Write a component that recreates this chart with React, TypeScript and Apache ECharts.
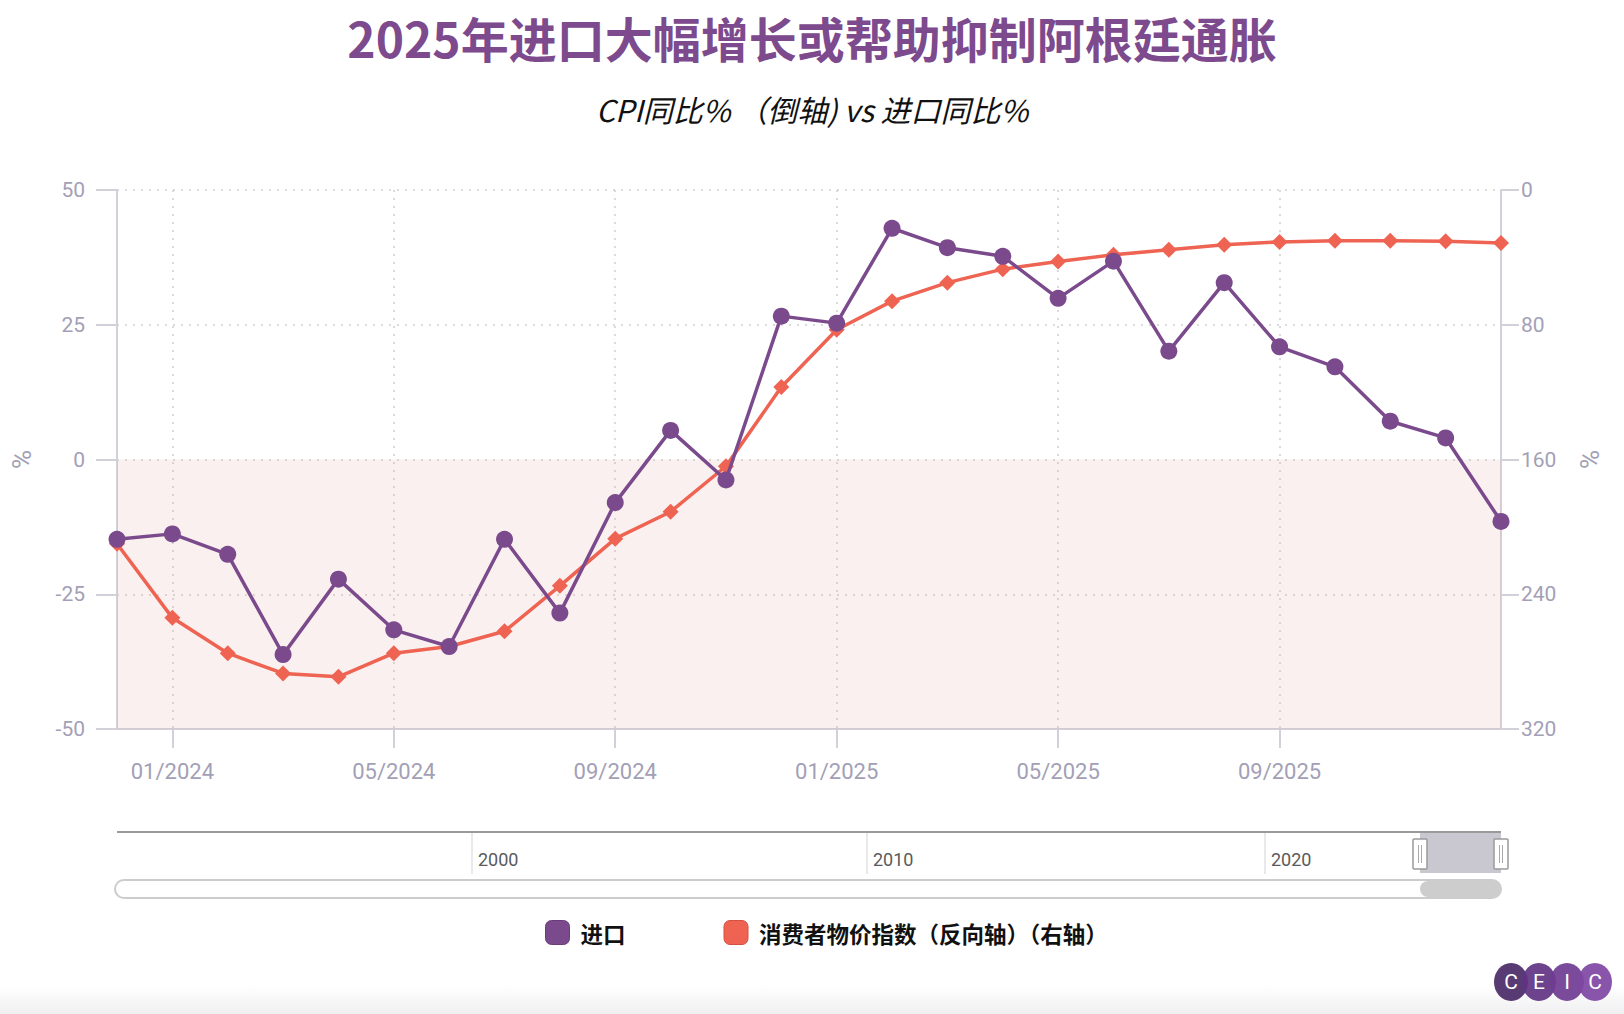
import React, { useEffect, useRef } from "react";
import * as echarts from "echarts";

// ---- data ----
const months = [
  "12/2023", "01/2024", "02/2024", "03/2024", "04/2024", "05/2024", "06/2024",
  "07/2024", "08/2024", "09/2024", "10/2024", "11/2024", "12/2024", "01/2025",
  "02/2025", "03/2025", "04/2025", "05/2025", "06/2025", "07/2025", "08/2025",
  "09/2025", "10/2025", "11/2025", "12/2025", "01/2026",
];
const importsYoY = [
  -14.8, -13.8, -17.6, -36.2, -22.2, -31.6, -34.7, -14.8, -28.5, -8.0, 5.4,
  -3.8, 26.6, 25.3, 42.9, 39.3, 37.7, 29.9, 36.8, 20.1, 32.8, 20.9, 17.2, 7.1,
  4.0, -11.5,
];
const cpiYoY = [
  210, 254, 275, 287, 289, 275, 271, 262, 235, 207, 191, 164, 117, 83, 66, 55,
  47, 42.5, 38.5, 35.5, 32.5, 30.8, 30.2, 30.2, 30.4, 31.4,
];
const seriesNames = ["进口", "消费者物价指数（反向轴）（右轴）"];
const sliderYears = ["2000", "2010", "2020"];
const logoLetters = ["C", "E", "I", "C"];

const titleText = "2025年进口大幅增长或帮助抑制阿根廷通胀";
const subtitleText = "CPI同比% （倒轴) vs 进口同比%";

const PURPLE = "#7b4a8c";
const RED = "#ee6352";
const AXIS_GRAY = "#d2d0d9";
const LABEL_GRAY = "#a39fb6";
const GRID_DOT = "#cfcfcf";

const lastIdx = months.length - 1;
const showEvery4 = (i: number) => i % 4 === 1 && i < lastIdx;

function buildGraphics() {
  const els: any[] = [];
  // slider decoration
  const sx0 = 117, sx1 = 1501, sy = 832;
  els.push({
    type: "line",
    shape: { x1: sx0, y1: sy, x2: sx1, y2: sy },
    style: { stroke: "#9a9a9a", lineWidth: 2 },
  });
  const sepX = [472, 867, 1265];
  sliderYears.forEach((y, i) => {
    els.push({
      type: "line",
      shape: { x1: sepX[i], y1: sy + 1, x2: sepX[i], y2: sy + 42 },
      style: { stroke: "#e2e2e2", lineWidth: 1.5 },
    });
    els.push({
      type: "text",
      x: sepX[i] + 6,
      y: sy + 27,
      style: {
        text: y,
        fontSize: 18,
        fontFamily: "Roboto",
        fill: "#5a5a5a",
        verticalAlign: "middle",
      },
    });
  });
  // selected window
  els.push({
    type: "rect",
    shape: { x: 1420, y: sy + 1, width: 81, height: 40 },
    style: { fill: "#c9c8d0" },
  });
  [1413, 1494].forEach((hx) => {
    els.push({
      type: "rect",
      shape: { x: hx, y: sy + 7, width: 14, height: 30, r: 1 },
      style: { fill: "#ffffff", stroke: "#9a9a9a", lineWidth: 1.5 },
    });
    els.push({
      type: "line",
      shape: { x1: hx + 5.5, y1: sy + 13, x2: hx + 5.5, y2: sy + 31 },
      style: { stroke: "#aaaaaa", lineWidth: 1 },
    });
    els.push({
      type: "line",
      shape: { x1: hx + 8.5, y1: sy + 13, x2: hx + 8.5, y2: sy + 31 },
      style: { stroke: "#aaaaaa", lineWidth: 1 },
    });
  });
  // scrollbar
  els.push({
    type: "rect",
    shape: { x: 115, y: 880, width: 1386, height: 18, r: 9 },
    style: { fill: "#ffffff", stroke: "#cccccc", lineWidth: 2 },
  });
  els.push({
    type: "rect",
    shape: { x: 1420, y: 881, width: 81, height: 16, r: 8 },
    style: { fill: "#cdcdcd" },
  });
  // bottom faint band
  els.push({
    type: "rect",
    z: -1,
    shape: { x: 0, y: 985, width: 1624, height: 29 },
    style: {
      fill: new echarts.graphic.LinearGradient(0, 0, 0, 1, [
        { offset: 0, color: "rgba(240,240,242,0)" },
        { offset: 1, color: "rgba(240,240,242,1)" },
      ]),
    },
  });
  // CEIC logo
  const logoColors = ["#4b2a68", "#5f3382", "#6f3c92", "#7f47a3"];
  const lx = [1511, 1539, 1567, 1595];
  logoLetters.forEach((ch, i) => {
    els.push({
      type: "ellipse",
      shape: { cx: lx[i], cy: 982, rx: 17, ry: 19 },
      style: { fill: logoColors[i], opacity: 0.92 },
    });
  });
  logoLetters.forEach((ch, i) => {
    els.push({
      type: "text",
      x: lx[i],
      y: 982,
      style: {
        text: ch,
        fill: "#ffffff",
        fontSize: 21,
        fontFamily: "Roboto",
        align: "center",
        verticalAlign: "middle",
      },
    });
  });
  return els;
}

function buildOption(): any {
  return {
    animation: false,
    backgroundColor: "#ffffff",
    title: [
      {
        text: titleText,
        left: "center",
        top: 8,
        textStyle: {
          color: "#7d4a8e",
          fontSize: 48,
          fontWeight: "bold",
          fontFamily: "Noto Sans CJK SC",
        },
      },
      {
        text: subtitleText,
        left: "center",
        top: 89,
        textStyle: {
          color: "#111111",
          fontSize: 30,
          fontStyle: "italic",
          fontWeight: "normal",
          fontFamily: "Noto Sans CJK SC",
        },
      },
    ],
    legend: {
      left: 540,
      top: 915,
      itemWidth: 24,
      itemHeight: 24,
      itemGap: 98,
      icon: "roundRect",
      textStyle: {
        fontSize: 22.5,
        fontWeight: "bold",
        color: "#111111",
        fontFamily: "Noto Sans CJK SC",
        padding: [0, 0, 0, 6],
      },
      data: [
        { name: seriesNames[0], itemStyle: { color: PURPLE, borderColor: "#6a3d7a", borderWidth: 1 } },
        { name: seriesNames[1], itemStyle: { color: RED, borderColor: "#d4513f", borderWidth: 1 } },
      ],
    },
    grid: { left: 117, right: 123, top: 190, bottom: 285 },
    xAxis: {
      type: "category",
      data: months,
      boundaryGap: false,
      axisLine: { show: true, onZero: false, lineStyle: { color: AXIS_GRAY, width: 2 } },
      axisTick: {
        show: true,
        interval: showEvery4,
        length: 19,
        lineStyle: { color: AXIS_GRAY, width: 2 },
      },
      axisLabel: {
        interval: showEvery4,
        margin: 31,
        color: LABEL_GRAY,
        fontSize: 22,
        fontFamily: "Roboto",
      },
      splitLine: {
        show: true,
        interval: showEvery4,
        lineStyle: { color: GRID_DOT, type: [2, 6], width: 1.5 },
      },
    },
    yAxis: [
      {
        type: "value",
        min: -50,
        max: 50,
        interval: 25,
        name: "%",
        nameLocation: "middle",
        nameRotate: 90,
        nameGap: 82,
        nameTextStyle: { color: LABEL_GRAY, fontSize: 26, fontFamily: "Roboto" },
        axisLine: { show: true, lineStyle: { color: AXIS_GRAY, width: 2 } },
        axisTick: { show: true, length: 21, lineStyle: { color: AXIS_GRAY, width: 2 } },
        axisLabel: { margin: 32, color: LABEL_GRAY, fontSize: 21, fontFamily: "Roboto" },
        splitLine: { show: true, lineStyle: { color: GRID_DOT, type: [2, 6], width: 1.5 } },
      },
      {
        type: "value",
        inverse: true,
        min: 0,
        max: 320,
        interval: 80,
        position: "right",
        name: "%",
        nameLocation: "middle",
        nameRotate: 90,
        nameGap: 76,
        nameTextStyle: { color: LABEL_GRAY, fontSize: 26, fontFamily: "Roboto" },
        axisLine: { show: true, lineStyle: { color: AXIS_GRAY, width: 2 } },
        axisTick: { show: true, length: 18, lineStyle: { color: AXIS_GRAY, width: 2 } },
        axisLabel: { margin: 20, color: LABEL_GRAY, fontSize: 21, fontFamily: "Roboto" },
        splitLine: { show: false },
      },
    ],
    series: [
      {
        name: seriesNames[0],
        type: "line",
        yAxisIndex: 0,
        data: importsYoY,
        symbol: "circle",
        symbolSize: 17,
        z: 4,
        lineStyle: { color: PURPLE, width: 3.5 },
        itemStyle: { color: PURPLE },
        markArea: {
          silent: true,
          itemStyle: { color: "rgba(221,170,165,0.18)" },
          data: [[{ yAxis: 0 }, { yAxis: -50 }]],
        },
      },
      {
        name: seriesNames[1],
        type: "line",
        yAxisIndex: 1,
        data: cpiYoY,
        symbol: "diamond",
        symbolSize: 16,
        z: 3,
        lineStyle: { color: RED, width: 3.5 },
        itemStyle: { color: RED },
      },
    ],
    graphic: buildGraphics(),
  };
}

export default function App() {
  const ref = useRef<HTMLDivElement>(null);
  useEffect(() => {
    document.body.style.margin = "0";
    if (!ref.current) return;
    const chart = echarts.init(ref.current, null, { renderer: "svg" });
    chart.setOption(buildOption());
    return () => chart.dispose();
  }, []);
  return (
    <div
      ref={ref}
      style={{ position: "absolute", left: 0, top: 0, width: 1624, height: 1014 }}
    />
  );
}
